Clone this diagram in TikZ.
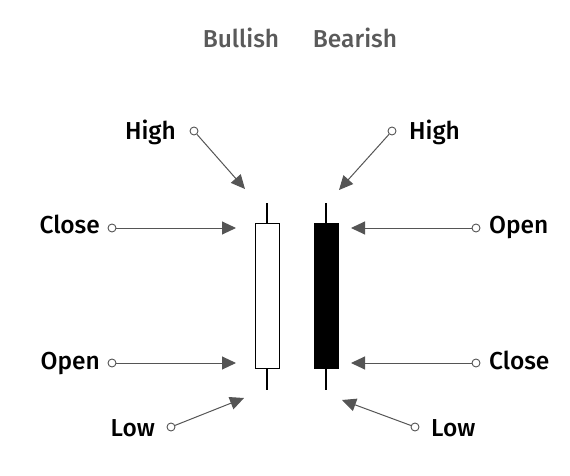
\documentclass[tikz,border=0pt]{standalone}
\usepackage{fontspec}
\setmainfont{Fira Sans}[BoldFont={Fira Sans Medium}]
\usetikzlibrary{arrows.meta}
\definecolor{arr}{HTML}{555555}
\definecolor{ttl}{HTML}{5A5A5A}
\tikzset{
  lbl/.style={font=\fontsize{24.5}{27}\selectfont\bfseries, inner sep=0pt, text=black},
  ttlstyle/.style={font=\fontsize{24.5}{27}\selectfont\bfseries, inner sep=0pt, text=ttl},
  dot/.style={circle, draw=arr, fill=white, line width=0.9pt, minimum size=8pt, inner sep=0pt},
  ptr/.style={draw=arr, line width=1pt, -{Triangle[length=14pt,width=13pt]}, shorten <=0pt},
  wick/.style={line width=1.5pt, draw=black},
}
\begin{document}
\begin{tikzpicture}[x=1pt,y=-1pt]
\useasboundingbox (0,0) rectangle (570,476);
% titles
\node[ttlstyle, anchor=base] (tbull) at (241,48) {Bullish};
\node[ttlstyle, anchor=base] (tbear) at (355,48) {Bearish};
% bullish candle
\draw[wick] (267,203) -- (267,223);
\draw[wick] (267,369) -- (267,390);
\node[draw=black, line width=1.5pt, fill=white, minimum width=24pt, minimum height=145pt, inner sep=0pt] (bull) at (267.5,296) {};
% bearish candle
\draw[wick] (326,203) -- (326,223);
\draw[wick] (326,369) -- (326,390);
\node[draw=black, line width=1.5pt, fill=black, minimum width=24pt, minimum height=145pt, inner sep=0pt] (bear) at (326.5,296) {};
% tip coordinates
\coordinate (lh) at (245,189);
\coordinate (lc) at (236,228);
\coordinate (lo) at (236,363);
\coordinate (ll) at (244,398);
\coordinate (rh) at (339,190);
\coordinate (ro) at (351,228);
\coordinate (rc) at (351,363);
\coordinate (rl) at (342,400);
% left labels
\node[lbl, anchor=base east] (tHighL) at (176,139.5) {High};
\node[dot] (dHighL) at (194,131) {};
\node[lbl, anchor=base east] (tCloseL) at (100,233) {Close};
\node[dot] (dCloseL) at (112,228) {};
\node[lbl, anchor=base east] (tOpenL) at (100,369.5) {Open};
\node[dot] (dOpenL) at (112,363) {};
\node[lbl, anchor=base east] (tLowL) at (155,436.5) {Low};
\node[dot] (dLowL) at (171,427) {};
% right labels
\node[lbl, anchor=base west] (tHighR) at (409,139.5) {High};
\node[dot] (dHighR) at (392,131) {};
\node[lbl, anchor=base west] (tOpenR) at (489,233) {Open};
\node[dot] (dOpenR) at (476,228) {};
\node[lbl, anchor=base west] (tCloseR) at (489,369.5) {Close};
\node[dot] (dCloseR) at (476,363) {};
\node[lbl, anchor=base west] (tLowR) at (431,436.5) {Low};
\node[dot] (dLowR) at (415,427) {};
% arrows
\draw[ptr] (dHighL) -- (lh);
\draw[ptr] (dCloseL) -- (lc);
\draw[ptr] (dOpenL) -- (lo);
\draw[ptr] (dLowL) -- (ll);
\draw[ptr] (dHighR) -- (rh);
\draw[ptr] (dOpenR) -- (ro);
\draw[ptr] (dCloseR) -- (rc);
\draw[ptr] (dLowR) -- (rl);
\end{tikzpicture}
\end{document}
